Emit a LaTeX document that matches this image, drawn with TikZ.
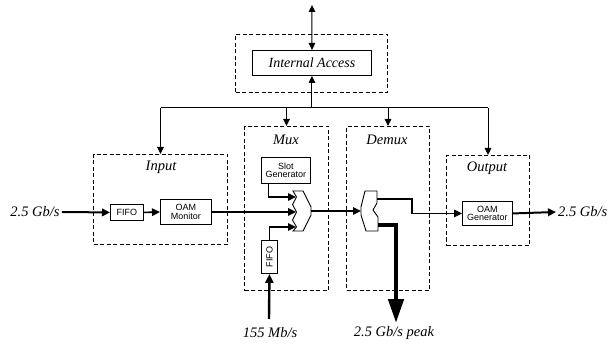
\documentclass[tikz,border=0pt]{standalone}
\usepackage{fontspec}
\setmainfont{Liberation Serif}
\newfontfamily\hsans{Liberation Sans}
\usetikzlibrary{arrows.meta,calc}
\begin{document}
\begin{tikzpicture}[x=1pt,y=-1pt,
 dbox/.style={draw, dash pattern=on 4pt off 2.5pt, line width=1pt, inner sep=0pt, anchor=north west},
 sbox/.style={draw, line width=0.9pt, font=\hsans\fontsize{9}{8.5}\selectfont, align=center, inner sep=0pt, anchor=north west},
 lab/.style={font=\itshape\fontsize{14.5}{15}\selectfont, inner sep=2pt},
 conn/.style={line width=1.6pt, -{Triangle[length=8pt,width=7.5pt]}},
 tarrow/.style={line width=1pt, -{Triangle[length=7pt,width=6.5pt]}},
 shapeline/.style={line width=0.9pt}
]
\useasboundingbox (0,0) rectangle (612,347);
% dashed boxes
\node[dbox, minimum width=152pt, minimum height=58pt] (iabox) at (235,34) {};
\node[dbox, minimum width=134pt, minimum height=90pt] (inbox) at (93,154) {};
\node[dbox, minimum width=84pt, minimum height=164pt] (muxbox) at (244,126) {};
\node[dbox, minimum width=83pt, minimum height=164pt] (dmxbox) at (346,126) {};
\node[dbox, minimum width=83pt, minimum height=90pt] (outbox) at (446,155) {};
% box labels
\node[lab] (linput) at (161,167) {Input};
\node[lab] (lmux) at (286,140) {Mux};
\node[lab] (ldemux) at (387,140) {Demux};
\node[lab] (loutput) at (487,168) {Output};
% solid boxes
\node[draw, line width=0.9pt, anchor=north west, minimum width=119pt, minimum height=25pt, inner sep=0pt, font=\itshape\fontsize{14}{15}\selectfont] (ia) at (252,50) {Internal Access};
\node[sbox, minimum width=33pt, minimum height=16pt] (fifoa) at (110,204) {FIFO};
\node[sbox, minimum width=51pt, minimum height=25pt] (oamm) at (160,199) {OAM\\Monitor};
\node[sbox, minimum width=49pt, minimum height=26pt] (slot) at (261,157) {Slot\\Generator};
\node[sbox, minimum width=16pt, minimum height=33pt] (fifob) at (261,240) {};
\node[font=\hsans\fontsize{9}{8.5}\selectfont, rotate=90, inner sep=0pt] (fifobt) at (fifob.center) {FIFO};
\node[sbox, minimum width=50pt, minimum height=24pt] (oamg) at (462,201) {OAM\\Generator};
% outside labels
\node[lab] (lin) at (35,212) {2.5 Gb/s};
\node[lab, anchor=west] (lout) at (556,212) {2.5 Gb/s};
\node[lab] (l155) at (270,333) {155 Mb/s};
\node[lab] (lpeak) at (394,333) {2.5 Gb/s peak};
% mux / demux shapes
\draw[shapeline] (293,191) -- (303,191) -- (311,207) -- (311,215) -- (303,231) -- (293,231)
  -- (296.5,227) -- (292.5,220) -- (296.5,212) -- (292.5,204.5) -- (296.5,197) -- cycle;
\draw[shapeline] (365,191) -- (377,191) -- (377,203) -- (373,210) -- (378,217) -- (378,231)
  -- (366,231) -- (361,215) -- (361,207) -- cycle;
\coordinate (m1) at (296,197);
\coordinate (m2) at (296,212);
\coordinate (m3) at (296,227);
\coordinate (mo) at (311,211);
\coordinate (di) at (361,211);
\coordinate (do1) at (377,199);
\coordinate (do2) at (378,225);
\coordinate (peak) at (396,323);
\coordinate (src155) at (269,319);
\coordinate (top) at (312,5);
\coordinate (bus) at (311,108);
% bus
\draw[line width=1pt] (inbox.north |- bus) -- (outbox.north |- bus);
\draw[tarrow] (inbox.north |- bus) -- (inbox.north);
\draw[tarrow] (muxbox.north |- bus) -- (muxbox.north);
\draw[tarrow] (dmxbox.north |- bus) -- (dmxbox.north);
\draw[tarrow] (outbox.north |- bus) -- (outbox.north);
\draw[tarrow] (ia.south |- bus) -- (ia.south);
\draw[line width=1pt, {Triangle[length=7pt,width=6.5pt]}-{Triangle[length=7pt,width=6.5pt]}] (top) -- (ia.north);
% data path
\draw[conn, line width=2pt] (lin.east) -- (fifoa.west);
\draw[conn] (fifoa.east) -- (oamm.west);
\draw[conn] (oamm.east) -- (oamm.east -| m2);
\draw[conn] ([xshift=-17.5pt]slot.south) |- (m1);
\draw[conn] (fifob.north) |- (m3);
\draw[line width=2.4pt, -{Triangle[length=9pt,width=8pt]}] (src155) -- (fifob.south);
\draw[conn] (mo) -- (di);
\draw[conn] (do1) -- ++(35,0) |- (oamg.west);
\draw[line width=4.5pt, line join=miter, -{Triangle[length=24pt,width=15pt]}] (do2) -| (peak);
\draw[conn, line width=2pt] (oamg.east) -- (lout.west);
\end{tikzpicture}
\end{document}
